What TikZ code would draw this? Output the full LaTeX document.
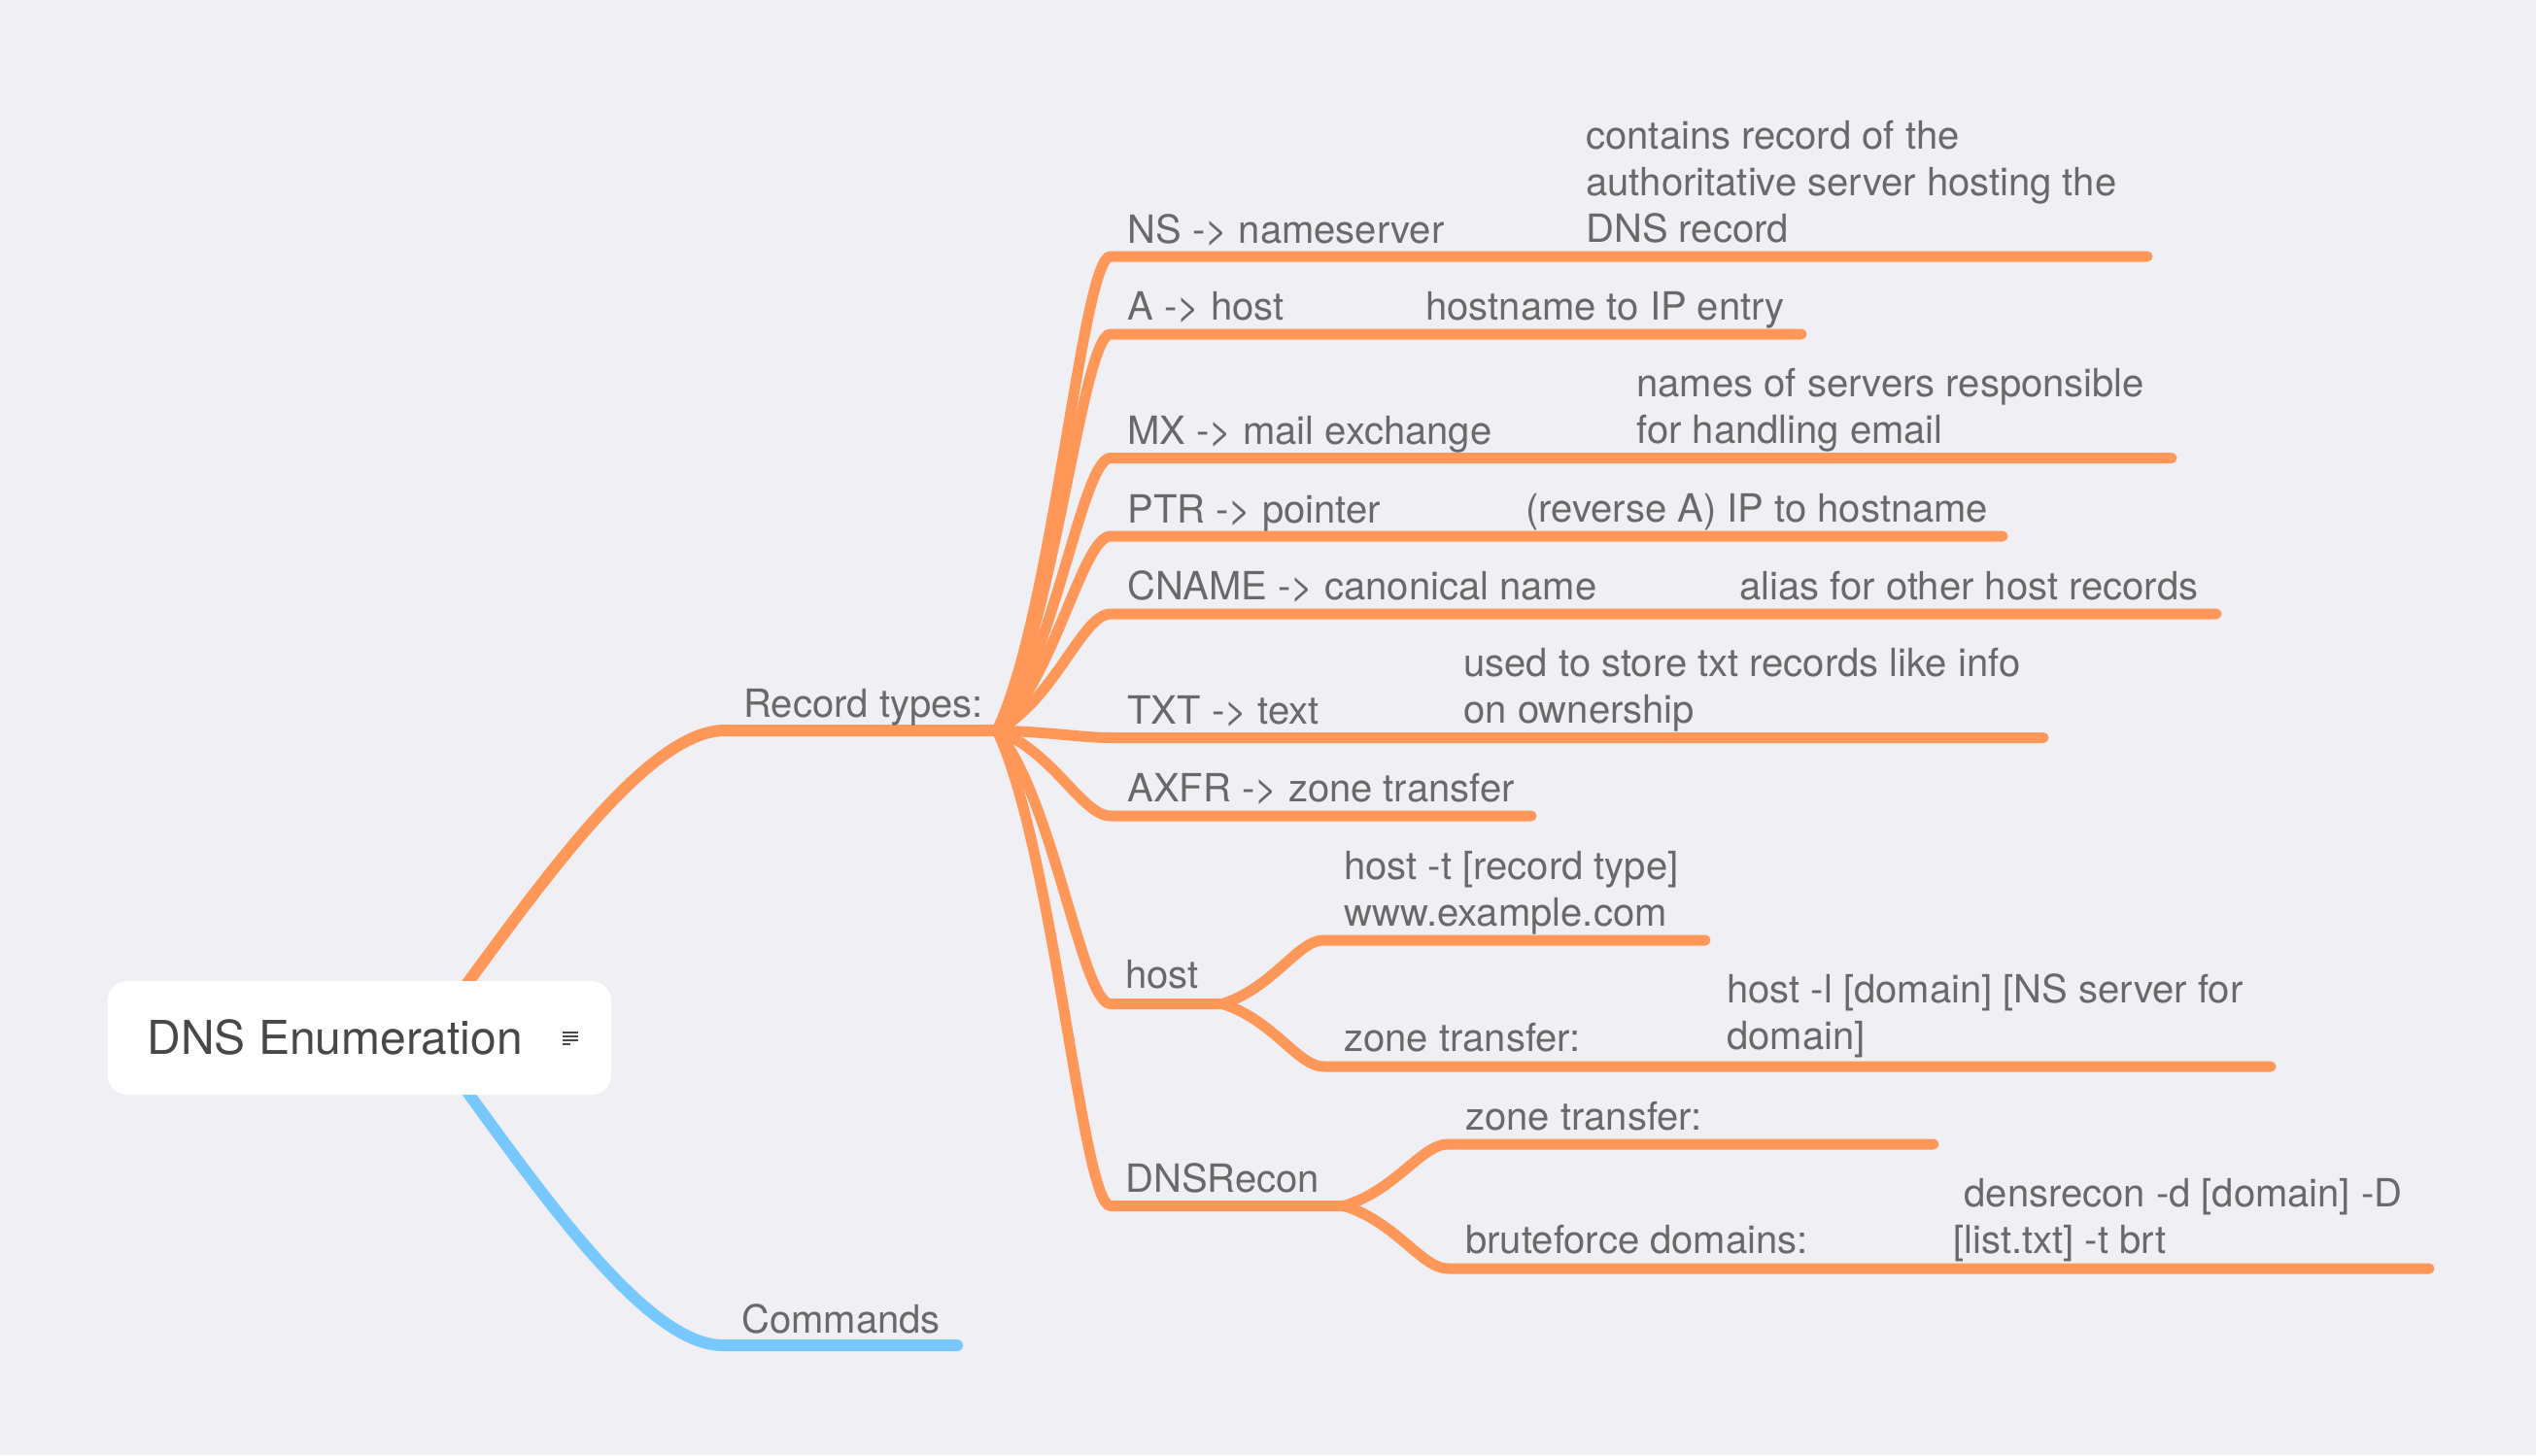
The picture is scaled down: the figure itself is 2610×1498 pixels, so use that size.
\documentclass[tikz,border=0pt]{standalone}
\usepackage{fontspec}
\setmainfont{TeX Gyre Heros}
\usetikzlibrary{calc}
\definecolor{bg}{HTML}{EFEFF4}
\definecolor{orng}{HTML}{FF9759}
\definecolor{blu}{HTML}{76C8FF}
\definecolor{txtgray}{HTML}{696969}
\definecolor{rootgray}{HTML}{484848}
\newcommand\twoln[2]{\vtop{\hbox{#1}\hbox{#2}}}
\newcommand\threeln[3]{\vtop{\hbox{#1}\hbox{#2}\hbox{#3}}}
\begin{document}
\begin{tikzpicture}[x=0.5pt,y=-0.5pt,
  lbl/.style={anchor=base west, inner sep=0pt, text=txtgray, font=\fontsize{20}{24}\selectfont},
  rootlbl/.style={anchor=base west, inner sep=0pt, text=rootgray, font=\fontsize{24}{29}\selectfont},
  rootbox/.style={fill=white, draw=none, rounded corners=10pt, minimum width=259pt, minimum height=58.5pt, inner sep=0pt},
  br/.style={draw=orng, line width=5.5pt, line cap=round},
  lvlone/.style={line width=6pt, line cap=round},
  fan/.style={to path={let \p1=(\tikztostart), \p2=(\tikztotarget) in
     .. controls ({\x1+0.5*(\x2-\x1)},{\y1+0.25*(\y2-\y1)}) and ({\x1+0.75*(\x2-\x1)},\y2) .. (\tikztotarget)}},
  rootc/.style={to path={let \p1=(\tikztostart), \p2=(\tikztotarget) in
     .. controls ({\x1+0.327*(\x2-\x1)},{\y1+0.424*(\y2-\y1)}) and ({\x1+0.72*(\x2-\x1)},\y2) .. (\tikztotarget)}},
  noteicon/.style={draw=rootgray, line width=0.8pt}
]
\useasboundingbox (0,0) rectangle (2610,1498);
\fill[bg] (0,0) rectangle (2610,1498);

% coordinates
\coordinate (rc) at (440,1068);
\coordinate (rtA) at (746,752);
\coordinate (rtB) at (1026,752);
\coordinate (cmA) at (744,1385);
\coordinate (cmB) at (985,1385);

\coordinate (nsA) at (1143,264);   \coordinate (nsB) at (2210,264);
\coordinate (aA) at (1143,344);    \coordinate (aB) at (1854,344);
\coordinate (mxA) at (1143,471.5); \coordinate (mxB) at (2235,471.5);
\coordinate (ptrA) at (1143,552);  \coordinate (ptrB) at (2061,552);
\coordinate (cnA) at (1143,632);   \coordinate (cnB) at (2281,632);
\coordinate (txA) at (1143,759.5); \coordinate (txB) at (2103,759.5);
\coordinate (axA) at (1143,840);   \coordinate (axB) at (1576,840);
\coordinate (hoA) at (1143,1033.5);\coordinate (hoB) at (1258,1033.5);
\coordinate (drA) at (1143,1241.5);\coordinate (drB) at (1383,1241.5);
\coordinate (htA) at (1362,968);   \coordinate (htB) at (1755,968);
\coordinate (hzA) at (1362,1098);  \coordinate (hzB) at (2337,1098);
\coordinate (dzA) at (1490,1178);  \coordinate (dzB) at (1990,1178);
\coordinate (dbA) at (1490,1306);  \coordinate (dbB) at (2500,1306);

% main branches
\draw[orng, lvlone] (rc) to[rootc] (rtA) -- (rtB);
\draw[blu, lvlone] (rc) to[rootc] (cmA) -- (cmB);

% record types fan
\draw[br] (rtB) to[fan] (nsA) -- (nsB);
\draw[br] (rtB) to[fan] (aA) -- (aB);
\draw[br] (rtB) to[fan] (mxA) -- (mxB);
\draw[br] (rtB) to[fan] (ptrA) -- (ptrB);
\draw[br] (rtB) to[fan] (cnA) -- (cnB);
\draw[br] (rtB) to[fan] (txA) -- (txB);
\draw[br] (rtB) to[fan] (axA) -- (axB);
\draw[br] (rtB) to[fan] (hoA) -- (hoB);
\draw[br] (rtB) to[fan] (drA) -- (drB);

% host / DNSRecon children
\draw[br] (hoB) to[fan] (htA) -- (htB);
\draw[br] (hoB) to[fan] (hzA) -- (hzB);
\draw[br] (drB) to[fan] (dzA) -- (dzB);
\draw[br] (drB) to[fan] (dbA) -- (dbB);

% root
\node[rootbox] (root) at (370,1068.5) {};
\node[rootlbl] (roottxt) at (151,1085.7) {DNS Enumeration};
\draw[noteicon] (579,1063) -- (595,1063);
\draw[noteicon] (579,1067) -- (595,1067);
\draw[noteicon] (579,1071) -- (595,1071);
\draw[noteicon] (579,1075) -- (587,1075);

% labels
\node[lbl] (rt) at (765,738) {Record types:};
\node[lbl] (cm) at (763,1372) {Commands};

\node[lbl] (ns) at (1160,250) {NS -> nameserver};
\node[lbl] (nsd) at (1632,153.6) {\threeln{contains record of the}{authoritative server hosting the}{DNS record}};
\node[lbl] (a) at (1160,329) {A -> host};
\node[lbl] (ad) at (1467,329) {hostname to IP entry};
\node[lbl] (mx) at (1160,457.5) {MX -> mail exchange};
\node[lbl] (mxd) at (1684,408.5) {\twoln{names of servers responsible}{for handling email}};
\node[lbl] (ptr) at (1160,538) {PTR -> pointer};
\node[lbl] (ptrd) at (1570,537.5) {(reverse A) IP to hostname};
\node[lbl] (cn) at (1160,617.5) {CNAME -> canonical name};
\node[lbl] (cnd) at (1790,617.5) {alias for other host records};
\node[lbl] (tx) at (1160,745) {TXT -> text};
\node[lbl] (txd) at (1506,696.5) {\twoln{used to store txt records like info}{on ownership}};
\node[lbl] (ax) at (1160,825.5) {AXFR -> zone transfer};
\node[lbl] (ho) at (1158,1017) {host};
\node[lbl] (ht) at (1383,905) {\twoln{host -t [record type]}{www.example.com}};
\node[lbl] (hz) at (1383,1082) {zone transfer:};
\node[lbl] (hzd) at (1777,1032) {\twoln{host -l [domain] [NS server for}{domain]}};
\node[lbl] (dr) at (1158,1227) {DNSRecon};
\node[lbl] (dz) at (1508,1163) {zone transfer:};
\node[lbl] (db) at (1508,1290.5) {bruteforce domains:};
\node[lbl] (dbd) at (2010,1242) {\twoln{\ densrecon -d [domain] -D}{[list.txt] -t brt}};
\end{tikzpicture}
\end{document}
